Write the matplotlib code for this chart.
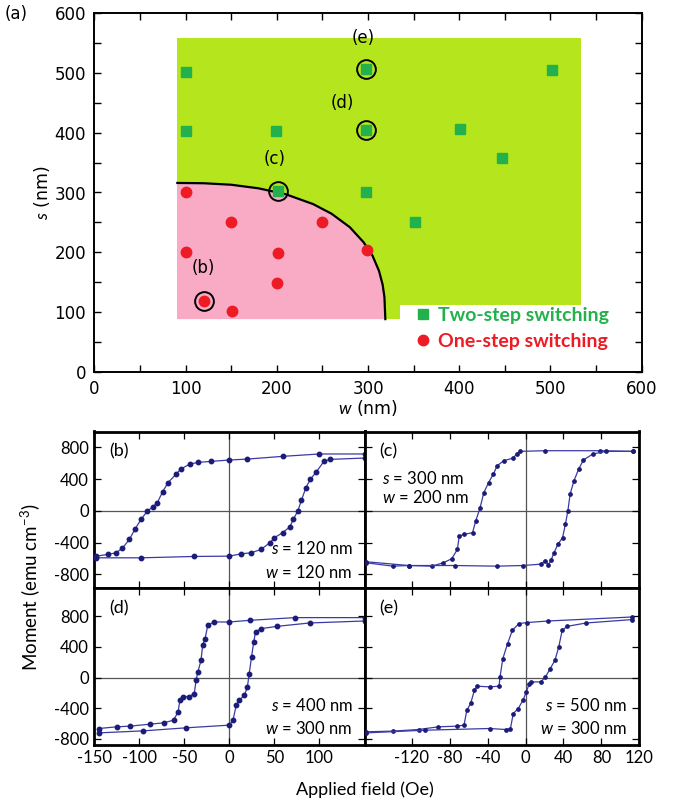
import matplotlib
matplotlib.use("Agg")
import matplotlib.pyplot as plt
from matplotlib.lines import Line2D
from matplotlib.patches import Polygon

plt.rcParams['axes.unicode_minus'] = False
plt.rcParams['mathtext.fontset'] = 'custom'
plt.rcParams['mathtext.it'] = 'Lato:italic'
plt.rcParams['mathtext.rm'] = 'Lato'

W, H = 673, 806

# ---------------- panel (a) data ----------------
two_w = [100, 100, 199, 201, 298, 298, 298, 351, 401, 447, 502]
two_s = [502, 403, 403, 303, 506, 405, 300, 251, 406, 358, 505]
one_w = [101, 150, 250, 100, 201, 299, 200, 120, 151]
one_s = [300, 250, 251, 200, 199, 203, 148, 119, 102]
circ_names = ['(b)', '(c)', '(d)', '(e)']
circ_w = [120, 201, 298, 298]
circ_s = [119, 303, 405, 506]
circ_offsets = [(0, 17), (-2, 16), (-17, 13), (-2, 16)]
# region boundary
bound_w = [91, 120, 150, 180, 210, 240, 260, 280, 295, 305, 312, 316, 318, 319]
bound_s = [316, 315.5, 313, 307, 297, 280.5, 264.5, 242, 217, 194, 169, 146, 125, 88]
green_w = [91, 335, 335, 534, 534, 91]
green_s = [88, 88, 112, 112, 559, 559]
a_ticks = [0, 100, 200, 300, 400, 500, 600]

# ---------------- hysteresis data ----------------
b_up_H = [150, 100, 59, 20, 0, -20, -35, -44, -54, -59, -68, -74, -80, -85, -91, -98, -105, -111, -119, -126, -135, -148]
b_up_M = [717, 717, 687, 653, 641, 624, 611, 590, 527, 464, 358, 244, 105, 51, 0, -105, -232, -358, -472, -527, -548, -569]
b_dn_H = [-148, -98, -39, 0, 13, 24, 35, 45, 50, 59, 67, 71, 76, 80, 85, 90, 96, 105, 112, 150]
b_dn_M = [-590, -590, -573, -569, -540, -527, -485, -400, -337, -274, -202, -105, 0, 135, 295, 400, 484, 624, 649, 666]

c_up_H = [113, 78, 20, -6, -9.5, -13, -23, -30, -34, -39, -44, -48, -52.6, -56, -65, -70, -72, -78, -87, -99, -123, -140, -168]
c_up_M = [750, 758, 758, 750, 717, 666, 632, 569, 464, 358, 232, 42, -126, -274, -295, -316, -485, -602, -653, -695, -687, -695, -653]
c_dn_H = [-168, -123, -75, -30, -3, 16, 21, 24, 27, 30, 34, 39, 42, 44.6, 47, 51, 56, 61, 71, 85, 113]
c_dn_M = [-640, -687, -687, -695, -687, -670, -624, -683, -615, -527, -421, -337, -168, 0, 211, 379, 527, 641, 717, 750, 750]

d_up_H = [150, 73, 23, 0, -17, -24, -27, -29.7, -31.5, -35, -37, -39, -44.6, -52, -55, -57, -62, -73, -88, -110, -125, -145]
d_up_M = [783, 783, 748, 726, 726, 683, 509, 422, 226, 73, -35, -209, -248, -248, -300, -449, -557, -592, -609, -635, -644, -666]
d_dn_H = [-145, -96, -48, 0, 4, 7.6, 11, 16.7, 20, 22, 24.6, 27, 29, 35, 53, 89, 150]
d_dn_M = [-723, -697, -657, -622, -557, -361, -296, -231, -122, 52, 269, 465, 595, 639, 669, 713, 739]

e_up_H = [112, 24, 1, -7, -14, -19, -24, -27, -28, -38, -51, -54, -58, -62, -65, -72, -92, -113, -140, -168]
e_up_M = [791, 739, 718, 705, 617, 443, 248, 8, -113, -122, -113, -166, -339, -427, -622, -635, -644, -679, -700, -709]
e_dn_H = [-168, -106, -38, -21, -16, -13, -7.8, -2.7, 0.7, 4, 5.8, 16, 21, 26, 31, 35, 38.6, 43.8, 64, 112]
e_dn_M = [-723, -688, -666, -679, -666, -470, -405, -296, -188, -78, -57, -57, 8, 117, 226, 400, 617, 669, 713, 757]

m_ticks = [800, 400, 0, -400, -800]
left_xticks = [-150, -100, -50, 0, 50, 100]
right_xticks = [-120, -80, -40, 0, 40, 80, 120]

fig = plt.figure(figsize=(W / 100, H / 100), dpi=100)


def rect(x0, y0, x1, y1):
    return [x0 / W, 1 - y1 / H, (x1 - x0) / W, (y1 - y0) / H]


# ---------------- panel (a) ----------------
ax = fig.add_axes(rect(94.3, 13.3, 641.7, 371.7))
ax.set_xlim(0, 600)
ax.set_ylim(0, 600)
ax.add_patch(Polygon(list(zip(green_w, green_s)), closed=True, facecolor='#b5e61d', edgecolor='none', zorder=0))
pink_w = [91] + bound_w
pink_s = [88] + bound_s
ax.add_patch(Polygon(list(zip(pink_w, pink_s)), closed=True, facecolor='#f9abc6', edgecolor='none', zorder=1))
ax.plot(bound_w, bound_s, color='black', lw=1.6, zorder=2)
ax.plot(two_w, two_s, ls='none', marker='s', ms=7, color='#22b14c', zorder=3)
ax.plot(one_w, one_s, ls='none', marker='o', ms=7.5, color='#ed1c24', zorder=3)
ax.plot(circ_w, circ_s, ls='none', marker='o', ms=13.5, mfc='none', mec='black', mew=1.4, zorder=4)
for name, cw, cs, off in zip(circ_names, circ_w, circ_s, circ_offsets):
    ax.annotate(name, (cw, cs), xytext=off, textcoords='offset points', ha='center', va='bottom',
                fontsize=12, family='DejaVu Sans')
ax.set_xticks(a_ticks)
ax.set_yticks(a_ticks)
ax.set_xticks(range(50, 600, 100), minor=True)
ax.set_yticks(range(50, 600, 100), minor=True)
ax.tick_params(which='both', direction='in', top=True, right=True, length=5, width=1)
ax.tick_params(labelsize=12, pad=6)
for lab in ax.get_xticklabels() + ax.get_yticklabels():
    lab.set_family('DejaVu Sans')
for sp in ax.spines.values():
    sp.set_linewidth(1.4)
ax.set_xlabel('$w$ (nm)', fontsize=12.5, labelpad=0)
ax.set_ylabel('$s$ (nm)', fontsize=12.5, labelpad=2)
handles = [Line2D([], [], ls='none', marker='s', ms=7, color='#22b14c'),
           Line2D([], [], ls='none', marker='o', ms=7.5, color='#ed1c24')]
leg = ax.legend(handles, ['Two-step switching', 'One-step switching'], loc='upper left',
                bbox_to_anchor=(0.587, 0.18), frameon=False, handlelength=0.8, handletextpad=0.35,
                labelspacing=0.45, borderpad=0, borderaxespad=0,
                prop={'family': 'Lato', 'weight': 'bold', 'size': 14})
leg.get_texts()[0].set_color('#22b14c')
leg.get_texts()[1].set_color('#ed1c24')
fig.text(5 / W, 1 - 14 / H, '(a)', fontsize=12, family='DejaVu Sans', va='center', ha='left')

# ---------------- hysteresis panels ----------------
panels = [
    ('(b)', rect(94.3, 431.5, 364.5, 588), (-150, 150), (-970, 1000), b_up_H, b_up_M, b_dn_H, b_dn_M,
     '$s$ = 120 nm', '$w$ = 120 nm', 'right', True, False),
    ('(c)', rect(364.5, 431.5, 639.3, 588), (-170, 120), (-970, 1000), c_up_H, c_up_M, c_dn_H, c_dn_M,
     '$s$ = 300 nm', '$w$ = 200 nm', 'topleft', False, False),
    ('(d)', rect(94.3, 588, 364.5, 744.5), (-150, 150), (-875, 1170), d_up_H, d_up_M, d_dn_H, d_dn_M,
     '$s$ = 400 nm', '$w$ = 300 nm', 'right', True, True),
    ('(e)', rect(364.5, 588, 639.3, 744.5), (-170, 120), (-875, 1170), e_up_H, e_up_M, e_dn_H, e_dn_M,
     '$s$ = 500 nm', '$w$ = 300 nm', 'right', False, True),
]

for (lab, r, xl, yl, uh, um, dh, dm, t1, t2, tpos, ylab, xlab) in panels:
    a = fig.add_axes(r)
    a.set_xlim(*xl)
    a.set_ylim(*yl)
    a.axhline(0, color='#555555', lw=0.9, zorder=1)
    a.axvline(0, color='#555555', lw=0.9, zorder=1)
    big = lab in ('(b)', '(d)')
    ms = 3.2 if big else 2.4
    for hh, mm in ((uh, um), (dh, dm)):
        a.plot(hh, mm, color='#3a3aa5', lw=0.9, marker='o', ms=ms, mfc='#1b1b78', mec='#1b1b78', zorder=3)
    a.set_yticks(m_ticks)
    if ylab:
        a.set_yticklabels([str(v) for v in m_ticks])
    else:
        a.set_yticklabels([])
    if big:
        a.set_xticks(left_xticks)
        a.set_xticklabels([str(v) for v in left_xticks] if xlab else [])
    else:
        a.set_xticks(right_xticks)
        a.set_xticklabels([str(v) for v in right_xticks] if xlab else [])
    a.tick_params(direction='in', top=True, right=True, length=5, width=0.9, labelsize=12, pad=4)
    for t in a.get_xticklabels() + a.get_yticklabels():
        t.set_family('Lato')
    for sp in a.spines.values():
        sp.set_linewidth(2.0)
    a.text(0.055, 0.87, lab, transform=a.transAxes, fontsize=13, family='Lato', va='center', ha='left')
    if tpos == 'right':
        a.text(0.955, 0.25, t1, transform=a.transAxes, fontsize=12, family='Lato', va='center', ha='right')
        a.text(0.955, 0.10, t2, transform=a.transAxes, fontsize=12, family='Lato', va='center', ha='right')
    else:
        a.text(0.065, 0.70, t1, transform=a.transAxes, fontsize=12, family='Lato', va='center', ha='left')
        a.text(0.065, 0.58, t2, transform=a.transAxes, fontsize=12, family='Lato', va='center', ha='left')

fig.text(30 / W, 1 - 587 / H, 'Moment (emu cm$^{-3}$)', rotation=90, fontsize=13.5, family='Lato',
         va='center', ha='center')
fig.text(365 / W, 1 - 790 / H, 'Applied field (Oe)', fontsize=13, family='Lato', va='center', ha='center')

fig.savefig('out.png', dpi=100)
